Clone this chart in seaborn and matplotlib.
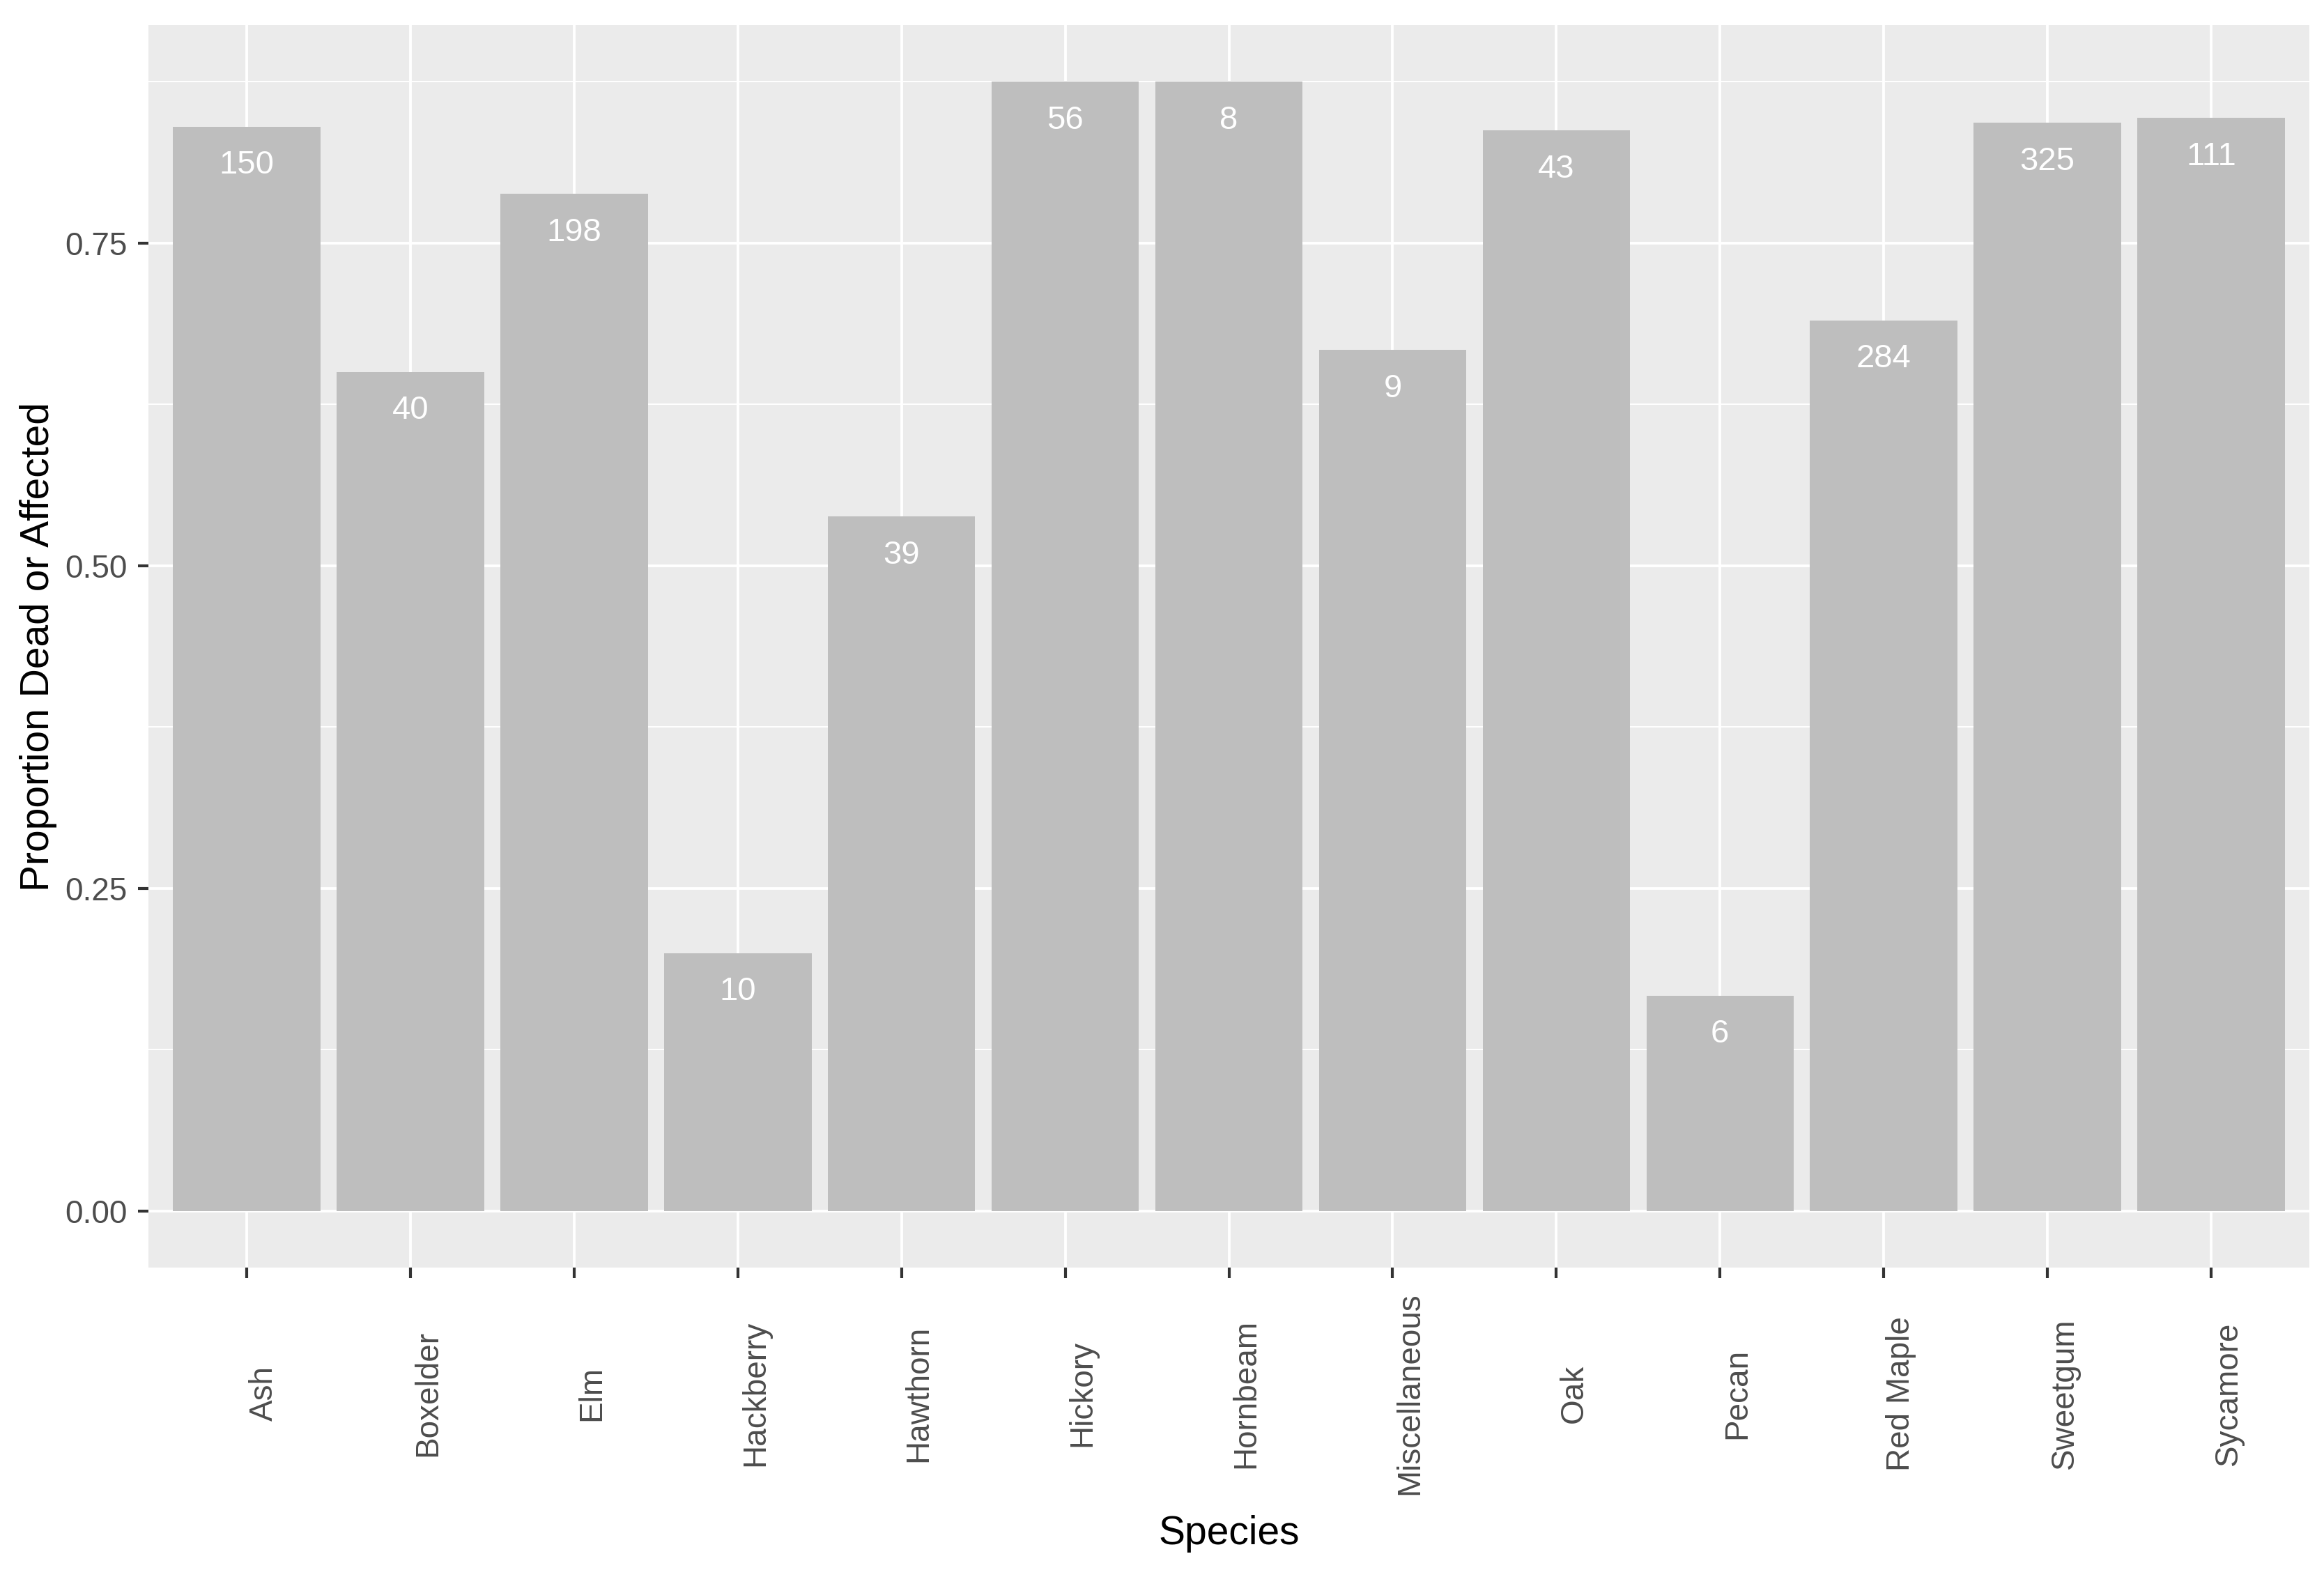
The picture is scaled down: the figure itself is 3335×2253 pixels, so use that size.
import matplotlib
matplotlib.use('Agg')
import matplotlib.pyplot as plt
import matplotlib.transforms as mtransforms
from matplotlib.ticker import MultipleLocator, AutoMinorLocator
import seaborn as sns

# Data
species = ['Ash', 'Boxelder', 'Elm', 'Hackberry', 'Hawthorn', 'Hickory', 'Hornbeam',
           'Miscellaneous', 'Oak', 'Pecan', 'Red Maple', 'Sweetgum', 'Sycamore']
proportion = [0.840, 0.650, 0.788, 0.200, 0.538, 0.875, 0.875,
              0.667, 0.837, 0.167, 0.690, 0.843, 0.847]
counts = [150, 40, 198, 10, 39, 56, 8, 9, 43, 6, 284, 325, 111]

plt.rcParams['font.family'] = ['Liberation Sans', 'DejaVu Sans']

fig, ax = plt.subplots(figsize=(33.35, 22.53), dpi=100)
fig.subplots_adjust(left=0.0639, right=0.9937, top=0.984, bottom=0.1926)

ax.set_facecolor('#EBEBEB')
ax.set_axisbelow(True)

sns.barplot(x=species, y=proportion, color='#BEBEBE', saturation=1, width=0.9, ax=ax)

# count labels inside the bar tops
for i, (p, n) in enumerate(zip(proportion, counts)):
    ax.annotate(str(n), xy=(i, p), xytext=(0, -40), textcoords='offset points',
                ha='center', va='center', color='white', fontsize=34)

ax.set_xlim(-0.6, len(species) - 0.4)
ax.set_ylim(-0.04375, 0.91875)
ax.yaxis.set_major_locator(MultipleLocator(0.25))
ax.yaxis.set_minor_locator(AutoMinorLocator(2))
ax.set_yticks([0, 0.25, 0.5, 0.75])
ax.set_yticklabels(['0.00', '0.25', '0.50', '0.75'])

ax.grid(which='major', color='white', linewidth=2.8)
ax.grid(which='minor', axis='y', color='white', linewidth=1.4)
for s in ax.spines.values():
    s.set_visible(False)

ax.tick_params(axis='both', which='major', length=11, width=3, color='#333333',
               labelcolor='#4D4D4D', labelsize=33)
ax.tick_params(axis='y', which='major', pad=11)
ax.tick_params(which='minor', length=0)
ax.tick_params(axis='x', which='major', pad=119)

offset = mtransforms.ScaledTranslation(0.25, 0, fig.dpi_scale_trans)
for lab in ax.get_xticklabels():
    lab.set_rotation(90)
    lab.set_va('center')
    lab.set_ha('center')
    lab.set_transform(lab.get_transform() + offset)

ax.set_xlabel('Species', fontsize=41, color='black')
ax.set_ylabel('Proportion Dead or Affected', fontsize=41, color='black')
ax.xaxis.set_label_coords(0.5, -0.214)
ax.xaxis.label.set_va('center')
ax.yaxis.set_label_coords(-0.051, 0.5)
ax.yaxis.label.set_va('center')

plt.savefig('out.png', dpi=100, facecolor='white')
